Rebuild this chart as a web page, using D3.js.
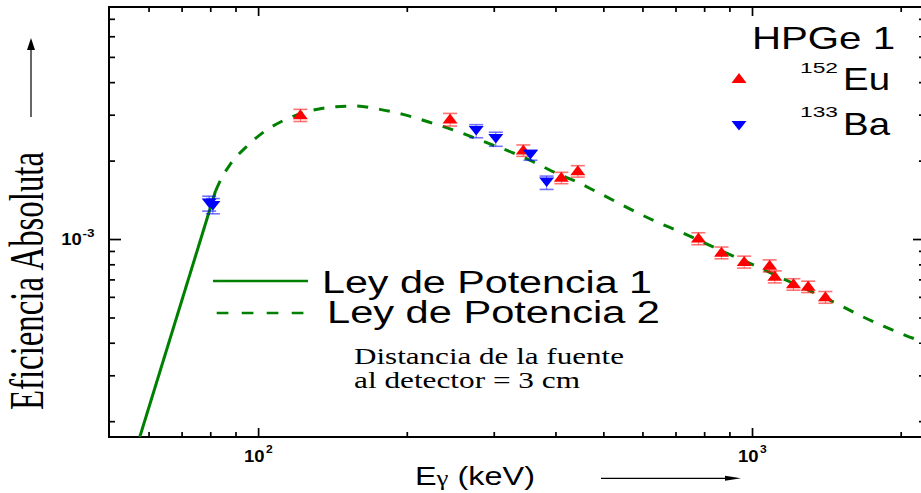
<!DOCTYPE html>
<html>
<head>
<meta charset="utf-8">
<script src="https://cdn.jsdelivr.net/npm/d3@7/dist/d3.min.js"></script>
<style>
  body { margin: 0; background: #fff; }
  svg { display: block; }
</style>
</head>
<body>
<svg id="chart" width="921" height="493"></svg>
<script>
// 152Eu gamma lines (keV), absolute efficiency and uncertainty
const euEnergy = [121.78, 244.7, 344.28, 411.1, 443.9, 778.9, 867.4, 964.1, 1085.8, 1112.1, 1212.9, 1299.1, 1408.0];
const euEff    = [2.985e-3, 2.874e-3, 2.186e-3, 1.717e-3, 1.820e-3, 1.004e-3, 8.858e-4, 8.167e-4, 7.897e-4, 7.166e-4, 6.702e-4, 6.561e-4, 5.98e-4];
const euErr    = [0.16e-3, 0.16e-3, 0.11e-3, 0.086e-3, 0.092e-3, 0.053e-3, 0.046e-3, 0.043e-3, 0.042e-3, 0.038e-3, 0.034e-3, 0.033e-3, 0.031e-3];

// 133Ba gamma lines (keV), absolute efficiency and uncertainty
const baEnergy = [79.6, 81.0, 276.4, 302.85, 356.0, 383.85];
const baEff    = [1.37e-3, 1.34e-3, 2.597e-3, 2.419e-3, 2.101e-3, 1.647e-3];
const baErr    = [0.09e-3, 0.09e-3, 0.15e-3, 0.15e-3, 0.095e-3, 0.097e-3];

// Power-law fit 1 (low-energy branch)
const law1Energy = [57.6, 82.0];
const law1Eff    = [1.74e-4, 1.528e-3];

// Power-law fit 2 (curve from ~82 keV upward)
const law2Energy = [82.0, 84.3, 87.6, 94.7, 102.4, 112.3, 124.3, 139.7, 157.0, 176.4, 196.6, 220.8, 246.3, 272.4,
                    299.0, 328.2, 360.3, 401.8, 441.0, 484.2, 640.4, 714.2, 869.6, 1036.6, 1192.3, 1436.7, 1675.5,
                    1856, 2038, 2195];
const law2Eff    = [1.528e-3, 1.709e-3, 1.923e-3, 2.260e-3, 2.566e-3, 2.844e-3, 3.063e-3, 3.201e-3, 3.238e-3, 3.145e-3,
                    3.009e-3, 2.818e-3, 2.636e-3, 2.456e-3, 2.294e-3, 2.143e-3, 1.980e-3, 1.787e-3, 1.660e-3, 1.519e-3,
                    1.165e-3, 1.067e-3, 8.995e-4, 7.753e-4, 6.856e-4, 5.833e-4, 5.031e-4, 4.609e-4, 4.281e-4, 4.06e-4];

// Axis ticks
const xMajorTicks = [100, 1000];
const xMinorTicks = [60, 70, 80, 90, 200, 300, 400, 500, 600, 700, 800, 900, 2000];
const yMajorTicks = [1e-3];
const yMinorTicks = [2e-4, 3e-4, 4e-4, 5e-4, 6e-4, 7e-4, 8e-4, 9e-4, 2e-3, 3e-3, 4e-3, 5e-3, 6e-3, 7e-3];
const xTickLabels = [{ v: 100, base: "10", exp: "2" }, { v: 1000, base: "10", exp: "3" }];
const yTickLabels = [{ v: 1e-3, base: "10", exp: "-3" }];

const SANS = "'Liberation Sans', Arial, sans-serif";
const SERIF = "'Liberation Serif', 'Times New Roman', serif";
const GREEN = "#008000", RED = "#ff0000", BLUE = "#0000ff";

const svg = d3.select("#chart");
const plotL = 109, plotR = 925, plotT = 7, plotB = 437;

const x = d3.scaleLog().domain([49.9, 2240]).range([plotL, plotR]);
const y = d3.scaleLog().domain([1.739e-4, 7.77e-3]).range([plotB, plotT]);

svg.append("defs").append("clipPath").attr("id", "plotclip")
  .append("rect").attr("x", plotL).attr("y", plotT)
  .attr("width", plotR - plotL).attr("height", plotB - plotT);

// ---- ticks (inward on all four sides) ----
function tickGroup(axis, transform) {
  const g = svg.append("g").attr("transform", transform).call(axis);
  g.select(".domain").remove();
  g.selectAll(".tick line").attr("stroke", "#000").attr("stroke-width", 1.7);
  g.selectAll(".tick text").remove();
  return g;
}
tickGroup(d3.axisBottom(x).tickValues(xMajorTicks).tickSize(-9).tickFormat(""), `translate(0,${plotB})`);
tickGroup(d3.axisBottom(x).tickValues(xMinorTicks).tickSize(-5).tickFormat(""), `translate(0,${plotB})`);
tickGroup(d3.axisTop(x).tickValues(xMajorTicks).tickSize(-9).tickFormat(""), `translate(0,${plotT})`);
tickGroup(d3.axisTop(x).tickValues(xMinorTicks).tickSize(-5).tickFormat(""), `translate(0,${plotT})`);
tickGroup(d3.axisLeft(y).tickValues(yMajorTicks).tickSize(-12).tickFormat(""), `translate(${plotL},0)`);
tickGroup(d3.axisLeft(y).tickValues(yMinorTicks).tickSize(-6).tickFormat(""), `translate(${plotL},0)`);
tickGroup(d3.axisRight(y).tickValues(yMajorTicks).tickSize(-12).tickFormat(""), `translate(${plotR},0)`);
tickGroup(d3.axisRight(y).tickValues(yMinorTicks).tickSize(-6).tickFormat(""), `translate(${plotR},0)`);

// frame
svg.append("rect").attr("x", plotL).attr("y", plotT)
  .attr("width", plotR - plotL).attr("height", plotB - plotT)
  .attr("fill", "none").attr("stroke", "#000").attr("stroke-width", 2);

// helper for stretched text
function label(txt, px, py, size, family, len, opts = {}) {
  const t = svg.append("text").attr("x", px).attr("y", py)
    .attr("font-family", family).attr("font-size", size)
    .attr("fill", "#000").text(txt);
  if (len) t.attr("textLength", len).attr("lengthAdjust", "spacingAndGlyphs");
  if (opts.weight) t.attr("font-weight", opts.weight);
  if (opts.anchor) t.attr("text-anchor", opts.anchor);
  if (opts.transform) t.attr("transform", opts.transform);
  return t;
}

// tick labels with exponents
xTickLabels.forEach(d => {
  const px = x(d.v);
  label(d.base, px + 6.5, plotB + 24.5, 16, SANS, 20.5, { weight: "bold", anchor: "end" });
  label(d.exp, px + 8, plotB + 15.5, 10, SANS, 6.7, { weight: "bold" });
});
yTickLabels.forEach(d => {
  const py = y(d.v);
  label(d.base, plotL - 27.3, py + 6, 16, SANS, 20.5, { weight: "bold", anchor: "end" });
  label(d.exp, plotL - 26.5, py - 1.7, 10, SANS, 12, { weight: "bold" });
});

// ---- curves ----
const curves = svg.append("g").attr("clip-path", "url(#plotclip)");
const law1 = law1Energy.map((e, i) => ({ e, v: law1Eff[i] }));
const law2 = law2Energy.map((e, i) => ({ e, v: law2Eff[i] }));
const line = d3.line().x(d => x(d.e)).y(d => y(d.v)).curve(d3.curveMonotoneX);

curves.append("path").attr("d", line(law1))
  .attr("fill", "none").attr("stroke", GREEN).attr("stroke-width", 3);
curves.append("path").attr("d", line(law2))
  .attr("fill", "none").attr("stroke", GREEN).attr("stroke-width", 3)
  .attr("stroke-dasharray", "11,11");

// ---- data points ----
const triUp = (cx, cy) => `M${cx},${cy - 6}L${cx + 7.5},${cy + 4}L${cx - 7.5},${cy + 4}Z`;
const triDown = (cx, cy) => `M${cx - 7.5},${cy - 5}L${cx + 7.5},${cy - 5}L${cx},${cy + 4.5}Z`;

function drawSeries(energy, eff, err, color, shape) {
  const g = svg.append("g");
  energy.forEach((e, i) => {
    const cx = x(e), cy = y(eff[i]);
    const y1 = y(eff[i] + err[i]), y2 = y(eff[i] - err[i]);
    g.append("line").attr("x1", cx).attr("x2", cx).attr("y1", y1).attr("y2", y2)
      .attr("stroke", color).attr("stroke-width", 1).attr("opacity", 0.5);
    [y1, y2].forEach(yy => g.append("line")
      .attr("x1", cx - 7).attr("x2", cx + 7).attr("y1", yy).attr("y2", yy)
      .attr("stroke", color).attr("stroke-width", 1.6).attr("opacity", 0.55));
    g.append("path").attr("d", shape(cx, cy)).attr("fill", color);
  });
}
drawSeries(euEnergy, euEff, euErr, RED, triUp);
drawSeries(baEnergy, baEff, baErr, BLUE, triDown);

// ---- legend: sources ----
label("HPGe 1", 752, 49.3, 31.5, SANS, 143);
svg.append("path").attr("d", triUp(739, 79)).attr("fill", RED);
label("152", 800, 72.7, 15.5, SANS, 38);
label("Eu", 843, 90, 32, SANS, 47);
svg.append("path").attr("d", triDown(739, 126)).attr("fill", BLUE);
label("133", 800, 117, 15.5, SANS, 38);
label("Ba", 843, 135, 32, SANS, 47);

// ---- legend: fits ----
svg.append("line").attr("x1", 213).attr("x2", 308).attr("y1", 281).attr("y2", 281)
  .attr("stroke", GREEN).attr("stroke-width", 2.5);
label("Ley de Potencia 1", 322, 293, 31, SANS, 330);
svg.append("line").attr("x1", 216.7).attr("x2", 306.7).attr("y1", 313).attr("y2", 313)
  .attr("stroke", GREEN).attr("stroke-width", 2.5).attr("stroke-dasharray", "11.7,13.3");
label("Ley de Potencia 2", 327, 322.7, 31, SANS, 333);

label("Distancia de la fuente", 354, 364.3, 23, SERIF, 270);
label("al detector = 3 cm", 354, 388.3, 23, SERIF, 226);

// ---- axis titles and arrows ----
const xt = svg.append("text").attr("x", 415).attr("y", 485)
  .attr("font-family", SANS).attr("font-size", 26.5).attr("fill", "#000")
  .attr("textLength", 120).attr("lengthAdjust", "spacingAndGlyphs");
xt.append("tspan").text("E");
xt.append("tspan").attr("font-family", SERIF).attr("font-size", 22).text("γ");
xt.append("tspan").text(" (keV)");
svg.append("line").attr("x1", 601).attr("x2", 728).attr("y1", 478.3).attr("y2", 478.3)
  .attr("stroke", "#000").attr("stroke-width", 1.2);
svg.append("path").attr("d", "M741,478.3L725,475.8L725,480.8Z").attr("fill", "#000");

label("Eficiencia Absoluta", 0, 0, 48, SERIF, 258, { transform: "translate(43.3,410) rotate(-90)" });
svg.append("line").attr("x1", 31).attr("x2", 31).attr("y1", 117).attr("y2", 48)
  .attr("stroke", "#000").attr("stroke-width", 1.2);
svg.append("path").attr("d", "M31,38L27,50L35,50Z").attr("fill", "#000");
</script>
</body>
</html>
